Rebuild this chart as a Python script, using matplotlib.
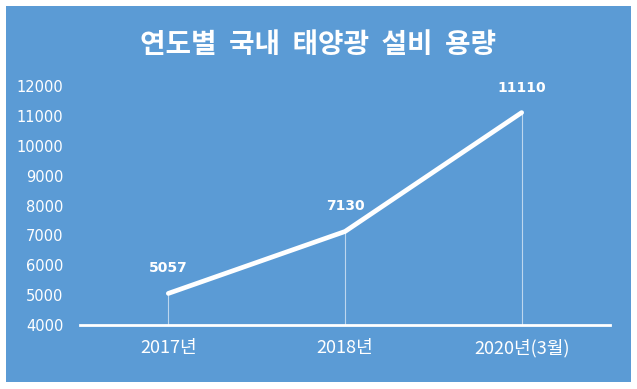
import matplotlib
matplotlib.use("Agg")
import matplotlib.pyplot as plt
from matplotlib.patches import Rectangle

plt.rcParams["font.family"] = ["Noto Sans CJK KR", "DejaVu Sans"]

# data
years = ["2017년", "2018년", "2020년(3월)"]
capacity = [5057, 7130, 11110]
y_ticks = [4000, 5000, 6000, 7000, 8000, 9000, 10000, 11000, 12000]
title = "연도별  국내  태양광  설비  용량"

BLUE = "#5b9bd5"

fig = plt.figure(figsize=(6.37, 3.89), dpi=100)
fig.patch.set_facecolor("white")
# blue chart area with white margin, behind the axes
bg = Rectangle((6 / 637, 7 / 389), 625 / 637, 376 / 389,
               transform=fig.transFigure, facecolor=BLUE,
               edgecolor="none", zorder=-10)
fig.patches.append(bg)

ax = fig.add_axes([80 / 637, 64 / 389, 530 / 637, 239 / 389])
ax.set_facecolor("none")
ax.set_zorder(5)

x = list(range(len(years)))
ax.plot(x, capacity, color="white", linewidth=3.4, solid_capstyle="round",
        zorder=3)
# thin drop lines down to the axis
ax.vlines(x, 4000, capacity, color="white", linewidth=0.8, alpha=0.6,
          zorder=2)

for xi, v in zip(x, capacity):
    ax.annotate(f"{v}", (xi, v), xytext=(0, 13), textcoords="offset points",
                ha="center", va="bottom", color="white", fontsize=10,
                fontweight="bold", family=["DejaVu Sans"])

ax.set_xlim(-0.5, 2.5)
ax.set_ylim(4000, 12000)
ax.set_yticks(y_ticks)
ax.set_yticklabels([str(t) for t in y_ticks], color="white", fontsize=10.5,
                   family=["DejaVu Sans"])
ax.set_xticks(x)
ax.set_xticklabels(years, color="white", fontsize=13)
ax.tick_params(axis="both", length=0)
ax.tick_params(axis="y", pad=12)
ax.tick_params(axis="x", pad=10)

for side in ["top", "right", "left"]:
    ax.spines[side].set_visible(False)
ax.spines["bottom"].set_color("white")
ax.spines["bottom"].set_linewidth(2)

fig.text(318 / 637, 1 - 45 / 389, title, ha="center", va="center",
         color="white", fontsize=20, fontweight="bold")

fig.savefig("out.png", dpi=100, facecolor="white")
